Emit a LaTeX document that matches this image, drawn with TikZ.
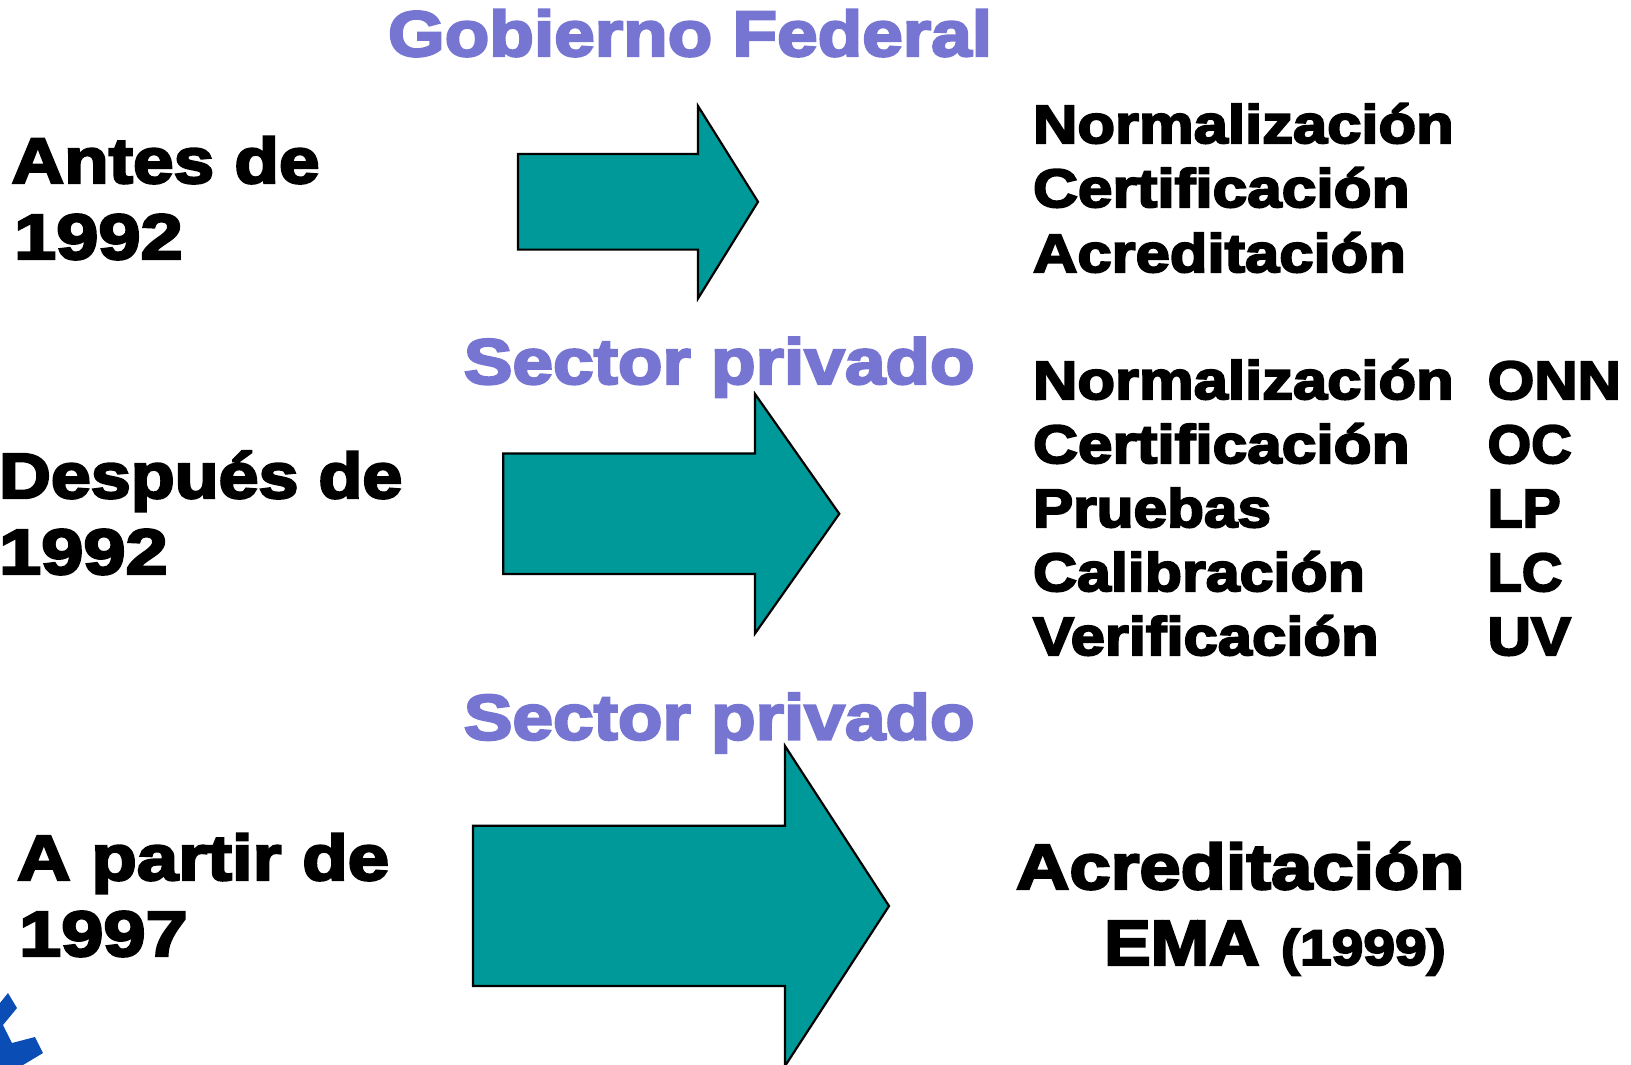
\documentclass[tikz,border=0pt]{standalone}
\usepackage{graphicx}
\usepackage{fontspec}
\newfontfamily\heavy{Liberation Sans}[BoldFeatures={FakeBold=3.8,FakeStretch=1.14}]
\newcommand{\sx}[2]{\scalebox{#1}[1]{#2}}
\definecolor{teal}{HTML}{009999}
\definecolor{lilac}{HTML}{7676D2}
\definecolor{logoblue}{HTML}{0A4DB5}
\tikzset{
  txt/.style={anchor=base west,inner sep=0pt,outer sep=0pt,font=\heavy\bfseries\fontsize{#1}{#1}\selectfont},
  big/.style={txt=64},
  small/.style={txt=54},
  head/.style={txt=64,text=lilac},
  block/.style={draw=black,line width=2.2pt,fill=teal,line join=miter},
}
\begin{document}
\begin{tikzpicture}[x=1pt,y=-1pt]
\useasboundingbox (0,0) rectangle (1631,1065);
\clip (0,0) rectangle (1631,1065);
\fill[white] (0,0) rectangle (1631,1065);
% block arrows
\draw[block] (518,154)--(698,154)--(698,106)--(758,201.8)--(698,298.5)--(698,249.6)--(518,249.6)--cycle;
\draw[block] (503.3,453.4)--(755,453.4)--(755,394)--(839.3,513.8)--(755,633.5)--(755,574)--(503.3,574)--cycle;
\draw[block] (473,825.8)--(785,825.8)--(785,746)--(889,906)--(785,1066)--(785,986)--(473,986)--cycle;
% logo fragment
\fill[logoblue] (0,1003)--(8,993)--(17,1008)--(3,1025)--(12,1043)--(35,1037)--(43,1053)--(23,1065)--(0,1065)--cycle;
% headings
\node[head] (h1) at (388,56) {Gobierno Federal};
\node[head] (h2) at (463.8,383.8) {Sector privado};
\node[head] (h3) at (463.8,739.5) {Sector privado};
% left labels
\node[big] (a1) at (11.5,183) {Antes de};
\node[big] (a2) at (14,259) {\sx{1.04}{1992}};
\node[big] (b1) at (-1,498) {\sx{0.985}{Después de}};
\node[big] (b2) at (-1,574) {\sx{1.04}{1992}};
\node[big] (c1) at (17,880) {\sx{1.02}{A partir de}};
\node[big] (c2) at (19,956) {\sx{1.04}{1997}};
% right list 1
\node[small] (r1) at (1033,143) {Normalización};
\node[small] (r2) at (1033,207) {\sx{1.01}{Certificación}};
\node[small] (r3) at (1033,272) {Acreditación};
% right list 2
\node[small] (s1) at (1033,399) {Normalización};
\node[small] (s2) at (1033,463) {\sx{1.01}{Certificación}};
\node[small] (s3) at (1033,527) {\sx{0.98}{Pruebas}};
\node[small] (s4) at (1033,591) {\sx{0.99}{Calibración}};
\node[small] (s5) at (1033,655) {\sx{1.0}{Verificación}};
\node[small] (t1) at (1487.6,399) {\sx{0.975}{ONN}};
\node[small] (t2) at (1487.6,463) {\sx{0.91}{OC}};
\node[small] (t3) at (1487.6,527) {\sx{0.93}{LP}};
\node[small] (t4) at (1487.6,591) {\sx{0.91}{LC}};
\node[small] (t5) at (1487.6,655) {\sx{0.975}{UV}};
% bottom
\node[big] (e1) at (1016,889) {\sx{1.015}{Acreditación}};
\node[big] (e2) at (1104,965) {\sx{0.96}{EMA}};
\node[txt=50] (e3) at (1281,965) {(1999)};
\end{tikzpicture}
\end{document}
